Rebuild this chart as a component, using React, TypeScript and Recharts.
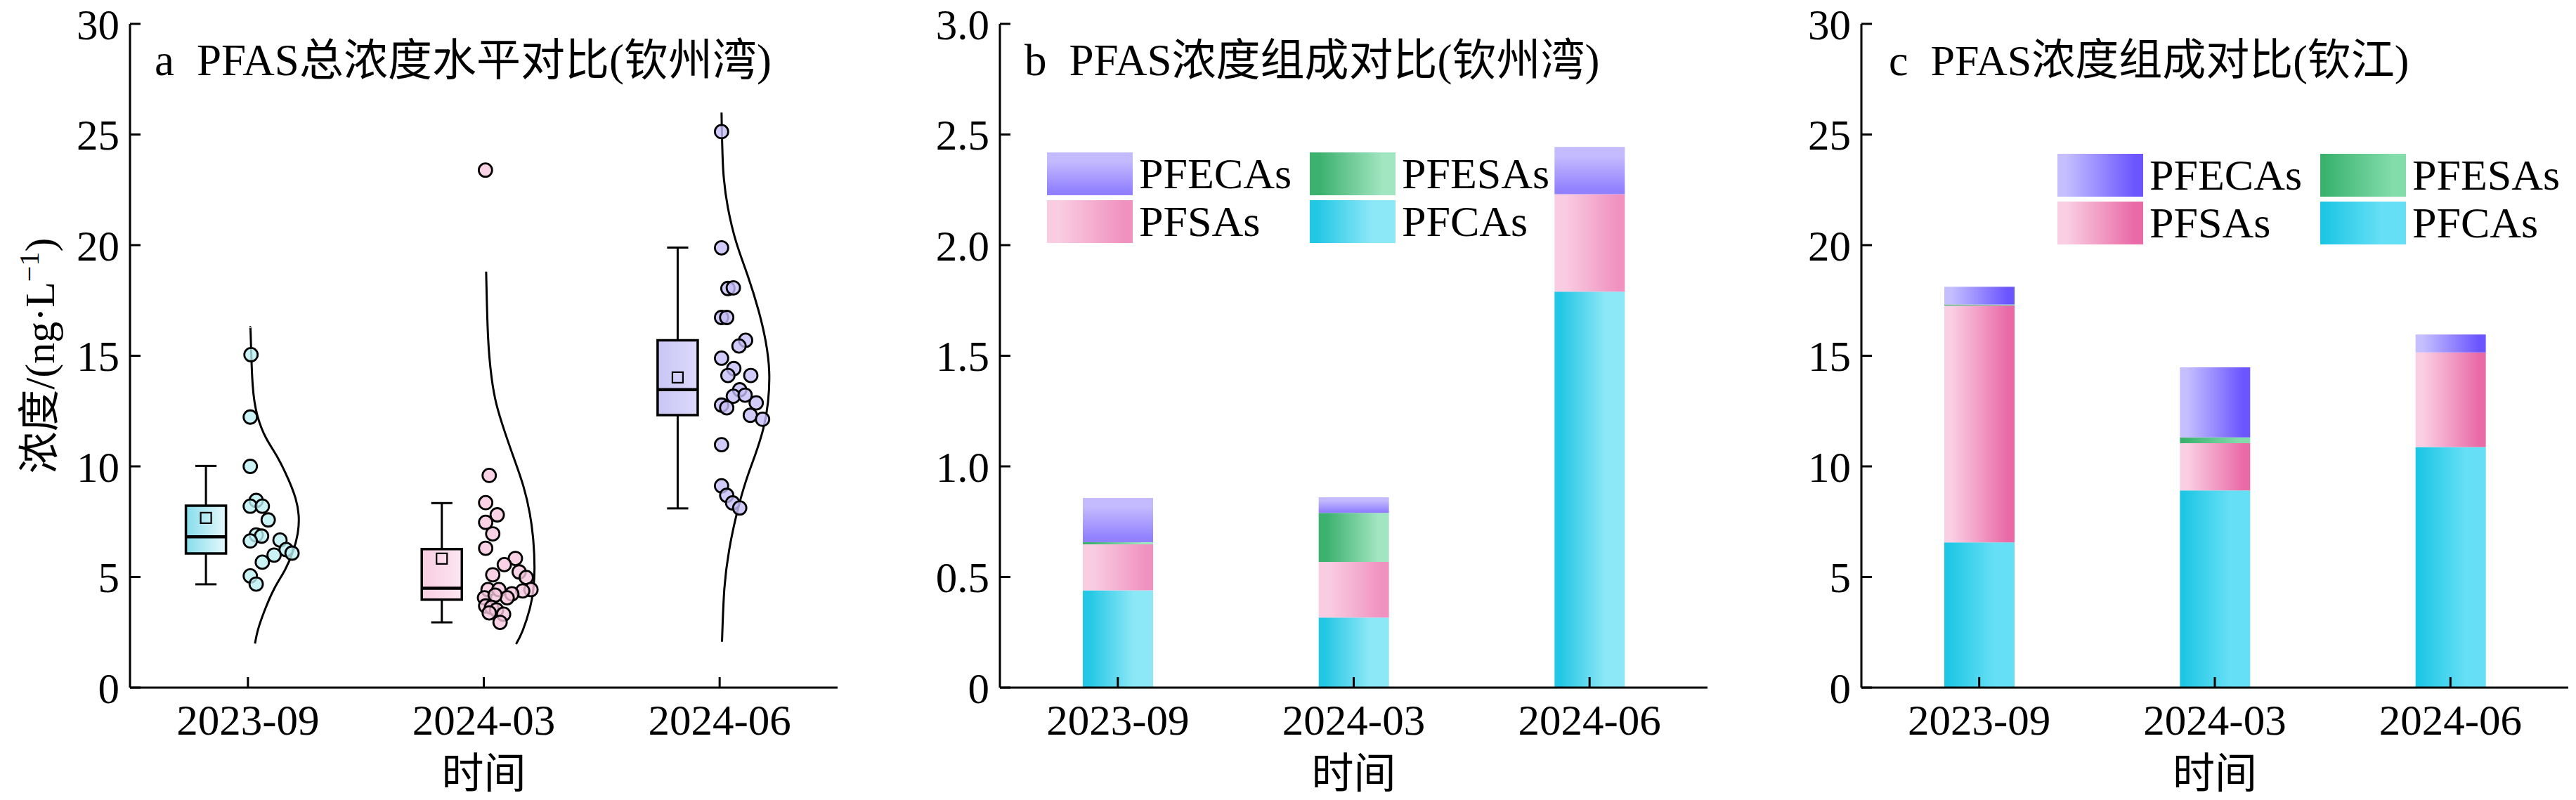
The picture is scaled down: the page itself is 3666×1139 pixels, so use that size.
import React from 'react';
import {
  ComposedChart, BarChart, Bar, Scatter, XAxis, YAxis,
  ReferenceArea, ReferenceLine, Legend,
} from 'recharts';

const FONT = '"Liberation Serif", "Noto Sans CJK SC", serif';

const periods = ['2023-09', '2024-03', '2024-06'];

// a: box statistics of total PFAS (ng/L)
const boxMin = [4.67, 2.95, 8.10];
const boxQ1 = [6.06, 3.98, 12.32];
const boxMedian = [6.82, 4.49, 13.47];
const boxQ3 = [8.22, 6.26, 15.70];
const boxMax = [10.02, 8.34, 19.89];
const boxMean = [7.67, 5.83, 14.02];

// a: sample values and their horizontal jitter (category units)
const conc2309 = [15.05, 12.23, 10.0, 8.46, 8.2, 8.2, 7.58, 6.9, 6.85, 6.63, 6.67, 6.24, 6.08, 5.99, 5.67, 5.05, 4.68];
const jitter2309 = [0.013, 0.01, 0.01, 0.035, 0.01, 0.061, 0.086, 0.035, 0.058, 0.01, 0.136, 0.162, 0.187, 0.111, 0.061, 0.01, 0.035];
const conc2403 = [23.39, 9.59, 8.36, 7.81, 7.47, 6.95, 6.3, 5.84, 5.56, 5.23, 5.1, 4.98, 4.43, 4.37, 4.43, 4.43, 4.24, 4.06, 4.06, 4.18, 3.69, 3.63, 3.51, 3.38, 3.32, 2.95];
const jitter2403 = [0.007, 0.023, 0.008, 0.057, 0.008, 0.038, 0.008, 0.134, 0.087, 0.15, 0.038, 0.18, 0.2, 0.165, 0.018, 0.064, 0.119, 0.099, 0.003, 0.048, 0.008, 0.033, 0.054, 0.023, 0.084, 0.069];
const conc2406 = [25.13, 19.88, 18.04, 18.07, 16.73, 16.73, 15.7, 15.44, 14.89, 14.42, 14.11, 14.11, 13.46, 13.17, 13.22, 12.77, 12.65, 12.87, 12.31, 12.13, 10.98, 9.12, 8.69, 8.35, 8.12];
const jitter2406 = [0.008, 0.008, 0.035, 0.058, 0.008, 0.03, 0.11, 0.082, 0.008, 0.06, 0.035, 0.132, 0.085, 0.058, 0.108, 0.008, 0.03, 0.155, 0.13, 0.182, 0.008, 0.008, 0.03, 0.055, 0.085];

// a: half-violin outline (level, width in category units)
const curveLevels2309 = [16.28, 15.86, 13.7, 12.3, 11.3, 10.4, 9.4, 8.55, 7.8, 7.04, 6.18, 5.32, 4.46, 3.49, 2.63, 1.99];
const curveWidths2309 = [0.01, 0.012, 0.02, 0.04, 0.076, 0.126, 0.172, 0.202, 0.215, 0.212, 0.192, 0.157, 0.111, 0.071, 0.043, 0.03];
const curveLevels2403 = [18.8, 15.87, 14.02, 12.79, 11.56, 10.33, 9.1, 7.87, 6.64, 5.41, 4.43, 3.57, 2.58, 1.97];
const curveWidths2403 = [0.01, 0.018, 0.033, 0.054, 0.089, 0.129, 0.168, 0.195, 0.21, 0.215, 0.21, 0.195, 0.165, 0.137];
const curveLevels2406 = [25.99, 23.41, 21.69, 20.14, 18.59, 17.04, 15.66, 14.29, 12.91, 11.7, 10.5, 9.29, 7.75, 6.2, 4.48, 2.07];
const curveWidths2406 = [0.008, 0.015, 0.035, 0.07, 0.12, 0.165, 0.195, 0.21, 0.205, 0.185, 0.15, 0.11, 0.07, 0.04, 0.02, 0.01];

// b: 钦州湾 composition (ng/L)
const bayPFCAs = [0.44, 0.317, 1.79];
const bayPFSAs = [0.208, 0.251, 0.44];
const bayPFESAs = [0.009, 0.222, 0];
const bayPFECAs = [0.2, 0.07, 0.214];

// c: 钦江 composition (ng/L)
const riverPFCAs = [6.56, 8.91, 10.87];
const riverPFSAs = [10.71, 2.14, 4.28];
const riverPFESAs = [0.05, 0.26, 0];
const riverPFECAs = [0.8, 3.17, 0.81];

const yTicksA = [0, 5, 10, 15, 20, 25, 30];
const yTicksB = [0, 0.5, 1, 1.5, 2, 2.5, 3];
const stackOrder = ['PFCAs', 'PFSAs', 'PFESAs', 'PFECAs'];
const legendOrder = ['PFECAs', 'PFESAs', 'PFSAs', 'PFCAs'];

const groupConc = [conc2309, conc2403, conc2406];
const groupJitter = [jitter2309, jitter2403, jitter2406];
const groupLevels = [curveLevels2309, curveLevels2403, curveLevels2406];
const groupWidths = [curveWidths2309, curveWidths2403, curveWidths2406];

const pointFill = ['#BDF0F4', '#F7C8DE', '#C4BEF6'];

const bayData = periods.map((p, i) => ({
  period: p, PFCAs: bayPFCAs[i], PFSAs: bayPFSAs[i], PFESAs: bayPFESAs[i], PFECAs: bayPFECAs[i],
}));
const riverData = periods.map((p, i) => ({
  period: p, PFCAs: riverPFCAs[i], PFSAs: riverPFSAs[i], PFESAs: riverPFESAs[i], PFECAs: riverPFECAs[i],
}));

const BOX_SHIFT = -0.178;
const BOX_HALF = 0.085;
const CAP_HALF = 0.045;

const cssGrad = {
  b: {
    PFCAs: 'linear-gradient(to right, #22C7E5 8%, #8CE7F7 72%)',
    PFSAs: 'linear-gradient(to right, #F9CCE1 15%, #F091C0 90%)',
    PFESAs: 'linear-gradient(to right, #3DB26F 12%, #A2E5C1 85%)',
    PFECAs: 'linear-gradient(to bottom, #C4BAFE 20%, #9281FF 90%)',
  },
  c: {
    PFCAs: 'linear-gradient(to right, #1EC6E5 5%, #64DFF5 70%)',
    PFSAs: 'linear-gradient(to right, #FACFE3 10%, #E96AA7 90%)',
    PFESAs: 'linear-gradient(to right, #3AB26E 5%, #82DDAB 85%)',
    PFECAs: 'linear-gradient(to right, #C5BFFF 10%, #6B55FF 90%)',
  },
};

function Grad({ id, from, to, o1, o2, vertical }: any) {
  return (
    <linearGradient id={id} x1="0" y1="0" x2={vertical ? '0' : '1'} y2={vertical ? '1' : '0'}>
      <stop offset={o1} stopColor={from} />
      <stop offset={o2} stopColor={to} />
    </linearGradient>
  );
}

function Defs() {
  return (
    <svg width={0} height={0} style={{ position: 'absolute' }}>
      <defs>
        <Grad id="boxGrad0" from="#86DDEC" to="#E6F9FC" o1={0} o2={1} />
        <Grad id="boxGrad1" from="#F9CDE2" to="#FCE6F1" o1={0} o2={1} />
        <Grad id="boxGrad2" from="#CAC6F6" to="#DCD9FB" o1={0} o2={1} />
        <Grad id="b-PFCAs" from="#22C7E5" to="#8CE7F7" o1={0.08} o2={0.72} />
        <Grad id="b-PFSAs" from="#F9CCE1" to="#F091C0" o1={0.15} o2={0.9} />
        <Grad id="b-PFESAs" from="#3DB26F" to="#A2E5C1" o1={0.12} o2={0.85} />
        <Grad id="b-PFECAs" from="#C4BAFE" to="#9281FF" o1={0.2} o2={0.9} vertical />
        <Grad id="c-PFCAs" from="#1EC6E5" to="#64DFF5" o1={0.05} o2={0.7} />
        <Grad id="c-PFSAs" from="#FACFE3" to="#E96AA7" o1={0.1} o2={0.9} />
        <Grad id="c-PFESAs" from="#3AB26E" to="#82DDAB" o1={0.05} o2={0.85} />
        <Grad id="c-PFECAs" from="#C5BFFF" to="#6B55FF" o1={0.1} o2={0.9} />
      </defs>
    </svg>
  );
}

// tick text drawn with the serif font explicitly
const makeTick = (fmt: (v: any) => string, side: 'x' | 'y') => (props: any) => (
  <text x={props.x} y={props.y} dy={side === 'x' ? '0.71em' : '0.355em'} textAnchor={side === 'x' ? 'middle' : 'end'}
    fontSize={61} fontFamily={FONT} fill="#000">
    {fmt(props.payload.value)}
  </text>
);

const xLabel = (props: any) => {
  const vb = props.viewBox;
  return (
    <text x={vb.x + vb.width / 2} y={vb.y + 143} textAnchor="middle" fontSize={60} fontFamily={FONT} fill="#000">
      时间
    </text>
  );
};

const yLabel = (props: any) => {
  const vb = props.viewBox;
  const cx = vb.x - 8;
  const cy = vb.y + vb.height / 2;
  return (
    <text x={cx} y={cy} transform={`rotate(-90 ${cx} ${cy})`} textAnchor="middle" fontSize={60} fontFamily={FONT} fill="#000">
      浓度/(ng·L<tspan dy={-22} fontSize={40}>−1</tspan><tspan dy={22}>)</tspan>
    </text>
  );
};

const Circle = (color: string) => (props: any) => (
  <circle cx={props.cx} cy={props.cy} r={9.5} fill={color} fillOpacity={0.8} stroke="#000" strokeWidth={2.8} />
);

const MeanSquare = (props: any) => (
  <rect x={props.cx - 7.5} y={props.cy - 7.5} width={15} height={15} fill="none" stroke="#000" strokeWidth={2.2} />
);

const NoDot = () => <g />;

function BoxPanel() {
  const boxes = periods.flatMap((p, i) => {
    const c = i + 0.5 + BOX_SHIFT;
    const seg = (x1: number, y1: number, x2: number, y2: number, w: number, k: string) => (
      <ReferenceLine key={k + i} segment={[{ x: x1, y: y1 }, { x: x2, y: y2 }]} stroke="#000" strokeWidth={w} ifOverflow="visible" />
    );
    return [
      seg(c, boxQ3[i], c, boxMax[i], 3, 'wu'),
      seg(c, boxMin[i], c, boxQ1[i], 3, 'wl'),
      seg(c - CAP_HALF, boxMax[i], c + CAP_HALF, boxMax[i], 3, 'cu'),
      seg(c - CAP_HALF, boxMin[i], c + CAP_HALF, boxMin[i], 3, 'cl'),
      <ReferenceArea key={'box' + i} x1={c - BOX_HALF} x2={c + BOX_HALF} y1={boxQ1[i]} y2={boxQ3[i]}
        fill={`url(#boxGrad${i})`} fillOpacity={1} stroke="#000" strokeWidth={3.5} ifOverflow="visible" />,
      seg(c - BOX_HALF, boxMedian[i], c + BOX_HALF, boxMedian[i], 4.5, 'md'),
    ];
  });

  const curves = periods.map((p, i) => (
    <Scatter key={'curve' + p} data={groupLevels[i].map((lv, k) => ({ x: i + 0.5 + groupWidths[i][k], y: lv }))}
      line={{ stroke: '#000', strokeWidth: 3 }} lineJointType="natural" shape={NoDot} fill="none" isAnimationActive={false} />
  ));

  const points = periods.map((p, i) => (
    <Scatter key={'pts' + p} data={groupConc[i].map((v, k) => ({ x: i + 0.5 + groupJitter[i][k], y: v }))}
      shape={Circle(pointFill[i])} isAnimationActive={false} />
  ));

  return (
    <ComposedChart width={1230} height={1139} margin={{ top: 34, right: 38, bottom: 100, left: 85 }}>
      {boxes}
      {curves}
      {points}
      <Scatter data={boxMean.map((m, i) => ({ x: i + 0.5 + BOX_SHIFT, y: m }))} shape={MeanSquare} isAnimationActive={false} />
      <ReferenceArea fill="none" stroke="#000" strokeWidth={3} ifOverflow="visible" />
      <XAxis type="number" dataKey="x" domain={[0, 3]} allowDataOverflow ticks={[0.5, 1.5, 2.5]} interval={0}
        height={60} tickSize={-15} tickMargin={39} stroke="#000" strokeWidth={3}
        tick={makeTick((v: number) => periods[Math.floor(v)], 'x')} label={xLabel} />
      <YAxis type="number" dataKey="y" domain={[0, 30]} allowDataOverflow ticks={yTicksA} interval={0} width={100}
        tickSize={-15} tickMargin={30} stroke="#000" strokeWidth={3}
        tick={makeTick((v: number) => String(v), 'y')} label={yLabel} />
    </ComposedChart>
  );
}

function StackPanel({ data, prefix, yMax, ticks, fmt, width, left, right, legendLeft, legendTop }: any) {
  const grads = cssGrad[prefix as 'b' | 'c'];
  const renderLegend = (props: any) => {
    const items = legendOrder.map((n) => (props.payload || []).find((e: any) => e.value === n)).filter(Boolean);
    return (
      <div style={{ display: 'grid', gridTemplateColumns: '374px 374px', rowGap: 7 }}>
        {items.map((e: any) => (
          <div key={e.value} style={{ display: 'flex', alignItems: 'center', height: 61 }}>
            <span style={{ width: 122, height: 61, background: grads[e.value], display: 'inline-block' }} />
            <span style={{ marginLeft: 9, fontFamily: FONT, fontSize: 62, lineHeight: '61px', color: '#000' }}>{e.value}</span>
          </div>
        ))}
      </div>
    );
  };
  return (
    <BarChart width={width} height={1139} data={data} margin={{ top: 34, right, bottom: 100, left }}>
      {stackOrder.map((s) => (
        <Bar key={s} dataKey={s} name={s} stackId="all" barSize={100} fill={`url(#${prefix}-${s})`} isAnimationActive={false} />
      ))}
      <ReferenceArea fill="none" stroke="#000" strokeWidth={3} ifOverflow="visible" />
      <Legend verticalAlign="middle" align="center" layout="horizontal" content={renderLegend}
        wrapperStyle={{ left: legendLeft, top: legendTop, width: 760, height: 140 }} />
      <XAxis dataKey="period" height={60} tickSize={-15} tickMargin={39} stroke="#000" strokeWidth={3}
        tick={makeTick((v: string) => v, 'x')} interval={0} label={xLabel} />
      <YAxis domain={[0, yMax]} allowDataOverflow ticks={ticks} interval={0} width={100} tickSize={-15} tickMargin={30}
        stroke="#000" strokeWidth={3} tick={makeTick(fmt, 'y')} />
    </BarChart>
  );
}

export default function App() {
  return (
    <div style={{ position: 'absolute', left: 0, top: 0, width: 3666, height: 1139, background: '#fff', overflow: 'hidden', fontFamily: FONT }}>
      <Defs />
      <svg width={3666} height={1139} style={{ position: 'absolute', left: 0, top: 0 }}>
        <text x={220} y={107} fontSize={63} fontFamily={FONT} fill="#000">
          a<tspan dx={32}>PFAS总浓度水平对比(钦州湾)</tspan>
        </text>
        <text x={1458} y={107} fontSize={63} fontFamily={FONT} fill="#000">
          b<tspan dx={32}>PFAS浓度组成对比(钦州湾)</tspan>
        </text>
        <text x={2688} y={107} fontSize={62} fontFamily={FONT} fill="#000">
          c<tspan dx={32}>PFAS浓度组成对比(钦江)</tspan>
        </text>
      </svg>
      <div style={{ position: 'absolute', left: 0, top: 0 }}>
        <BoxPanel />
      </div>
      <div style={{ position: 'absolute', left: 1230, top: 0 }}>
        <StackPanel data={bayData} prefix="b" yMax={3} ticks={yTicksB}
          fmt={(v: number) => (v === 0 ? '0' : v.toFixed(1))} width={1230} left={93} right={30}
          legendLeft={260} legendTop={217} />
      </div>
      <div style={{ position: 'absolute', left: 2460, top: 0 }}>
        <StackPanel data={riverData} prefix="c" yMax={30} ticks={yTicksA}
          fmt={(v: number) => String(v)} width={1206} left={89} right={11}
          legendLeft={468} legendTop={219} />
      </div>
    </div>
  );
}
